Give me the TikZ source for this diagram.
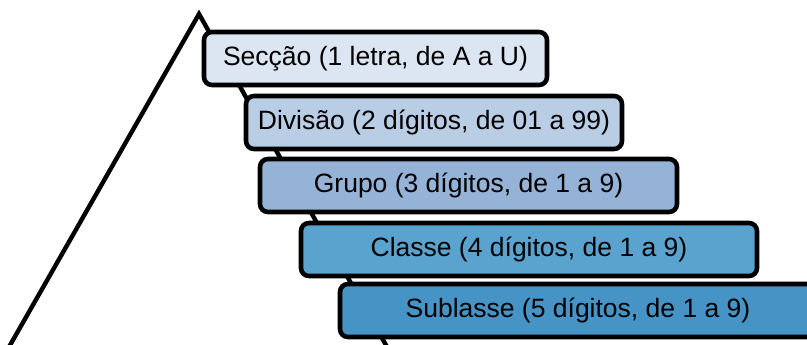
\documentclass[tikz,border=0pt]{standalone}
\usepackage{fontspec}
\setmainfont{Liberation Sans}
\definecolor{c1}{HTML}{DCE6F2}
\definecolor{c2}{HTML}{B9CDE5}
\definecolor{c3}{HTML}{95B3D7}
\definecolor{c4}{HTML}{5BA3CF}
\definecolor{c5}{HTML}{4694C6}
\tikzset{
  lvl/.style={draw=black, line width=4.6pt, rounded corners=8pt, inner sep=0pt,
    minimum height=53pt, font=\fontsize{26.5}{30}\selectfont, text=black},
  tri/.style={draw=black, line width=4.4pt, line join=miter}
}
\begin{document}
\begin{tikzpicture}[x=1pt,y=-1pt]
\useasboundingbox (0,0) rectangle (807,345);
\clip (0,0) rectangle (807,345);
\coordinate (tl) at (5,354);
\coordinate (apex) at (199,14);
\coordinate (tr) at (391,354);
\draw[tri] (tl) -- (apex) -- (tr);
\node[lvl, fill=c1, minimum width=343pt] (s) at (375.5,58.5) {Secção (1 letra, de A a U)};
\node[lvl, fill=c2, minimum width=376pt] (d) at (434,122.5) {Divisão (2 dígitos, de 01 a 99)};
\node[lvl, fill=c3, minimum width=417pt] (g) at (468.5,185.5) {Grupo (3 dígitos, de 1 a 9)};
\node[lvl, fill=c4, minimum width=456pt] (c) at (529,249.5) {Classe (4 dígitos, de 1 a 9)};
\node[lvl, fill=c5, minimum width=476pt] (b) at (578,310.5) {Sublasse (5 dígitos, de 1 a 9)};
\end{tikzpicture}
\end{document}
